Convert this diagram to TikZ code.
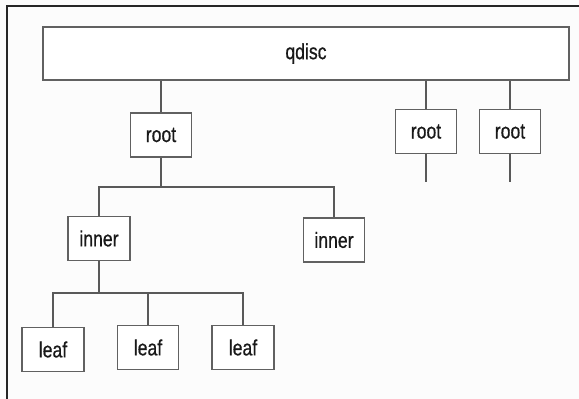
\documentclass[tikz,border=0pt]{standalone}
\usepackage{fontspec}
\setmainfont{Liberation Sans}[FakeStretch=0.8,FakeBold=0.6]
\begin{document}
\begin{tikzpicture}[x=1pt,y=-1pt,
  box/.style={draw=black!62,line width=1.3pt,fill=white,inner sep=0pt,
    minimum width=61pt,minimum height=44pt,font=\fontsize{22}{24}\selectfont,text=black!90},
  link/.style={draw=black!65,line width=1.2pt}]
\useasboundingbox (0,0) rectangle (579,399);
\fill[black!1] (0,0) rectangle (579,399);
\draw[black!85,line width=1.2pt] (579,6) -- (7,6) -- (7,399);
\node[box,minimum width=526pt,minimum height=53pt] (q) at (306,53.5) {qdisc};
\node[box] (r1) at (161,135) {root};
\node[box] (r2) at (426,131.5) {root};
\node[box] (r3) at (510,131.5) {root};
\coordinate (t2) at (426,182);
\coordinate (t3) at (510,182);
\node[box,minimum width=62pt] (i1) at (99,238.5) {inner};
\node[box] (i2) at (334,240) {inner};
\node[box,minimum width=62pt] (l1) at (53,349.5) {leaf};
\node[box] (l2) at (148,347.5) {leaf};
\node[box,minimum width=62pt] (l3) at (243,347.5) {leaf};
\coordinate (b1) at (161,187);
\coordinate (b2) at (99,293);
\draw[link] (q.south -| r1) -- (r1.north);
\draw[link] (q.south -| r2) -- (r2.north);
\draw[link] (q.south -| r3) -- (r3.north);
\draw[link] (r2.south) -- (t2);
\draw[link] (r3.south) -- (t3);
\draw[link] (r1.south) -- (b1);
\draw[link] (i1.north) -- (i1.north |- b1) -- (i2.north |- b1) -- (i2.north);
\draw[link] (i1.south) -- (b2);
\draw[link] (l1.north) -- (l1.north |- b2) -- (l3.north |- b2) -- (l3.north);
\draw[link] (l2.north) -- (l2.north |- b2);
\end{tikzpicture}
\end{document}
